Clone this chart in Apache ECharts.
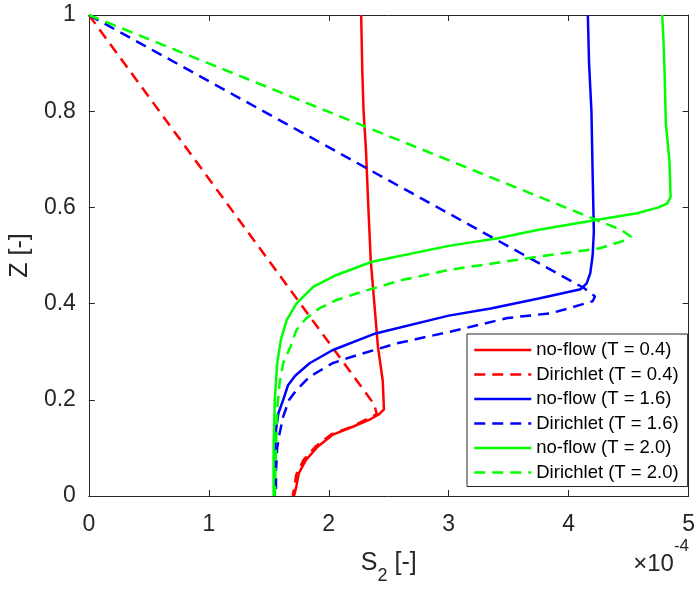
<!DOCTYPE html>
<html>
<head>
<meta charset="utf-8">
<script src="https://cdn.jsdelivr.net/npm/echarts@6/dist/echarts.min.js"></script>
<style>
  html, body { margin: 0; padding: 0; background: #fff; }
  #chart { width: 698px; height: 591px; }
</style>
</head>
<body>
<div id="chart"></div>
<script>
// S2 values in units of 1e-4, paired with Z
const noFlow04 = [[1.71,0],[1.73,0.02],[1.75,0.047],[1.81,0.075],[1.91,0.103],[2.03,0.127],[2.2,0.144],[2.35,0.16],[2.42,0.17],[2.46,0.18],[2.45,0.24],[2.41,0.31],[2.38,0.4],[2.35,0.49],[2.33,0.6],[2.31,0.72],[2.29,0.8],[2.28,0.88],[2.27,1]];
const dirichlet04 = [[0,1],[2.38,0.19],[2.4,0.17],[2.2,0.145],[2.02,0.128],[1.89,0.103],[1.79,0.075],[1.73,0.045],[1.7,0]];
const noFlow16 = [[1.55,0],[1.55,0.07],[1.56,0.137],[1.58,0.172],[1.62,0.2],[1.66,0.23],[1.72,0.25],[1.84,0.276],[2.03,0.303],[2.39,0.338],[3.0,0.375],[3.35,0.39],[3.76,0.411],[4.1,0.43],[4.15,0.442],[4.18,0.463],[4.2,0.5],[4.21,0.55],[4.2,0.67],[4.19,0.8],[4.17,0.9],[4.16,1]];
const dirichlet16 = [[0,1],[4.13,0.432],[4.22,0.415],[4.2,0.405],[4.0,0.39],[3.85,0.38],[3.49,0.37],[3.02,0.342],[2.56,0.317],[2.2,0.29],[2.03,0.276],[1.84,0.248],[1.73,0.22],[1.67,0.2],[1.62,0.165],[1.59,0.13],[1.57,0.1],[1.56,0.05],[1.56,0]];
const noFlow20 = [[1.54,0],[1.54,0.1],[1.55,0.2],[1.57,0.276],[1.6,0.324],[1.65,0.366],[1.73,0.4],[1.87,0.435],[2.06,0.459],[2.36,0.487],[3.0,0.52],[3.41,0.536],[3.74,0.553],[4.23,0.574],[4.57,0.588],[4.75,0.6],[4.82,0.608],[4.85,0.622],[4.84,0.698],[4.81,0.775],[4.8,0.88],[4.79,0.95],[4.78,1]];
const dirichlet20 = [[0,1],[4.44,0.553],[4.52,0.539],[4.45,0.53],[4.26,0.515],[3.76,0.498],[3.0,0.47],[2.61,0.449],[2.28,0.425],[2.06,0.407],[1.92,0.39],[1.81,0.369],[1.73,0.345],[1.68,0.31],[1.62,0.276],[1.59,0.234],[1.57,0.18],[1.56,0.1],[1.55,0]];

const seriesNames = ["no-flow (T = 0.4)", "Dirichlet (T = 0.4)", "no-flow (T = 1.6)", "Dirichlet (T = 1.6)", "no-flow (T = 2.0)", "Dirichlet (T = 2.0)"];
const seriesData = [noFlow04, dirichlet04, noFlow16, dirichlet16, noFlow20, dirichlet20];
const seriesColors = ["#ff0000", "#ff0000", "#0000ff", "#0000ff", "#00ff00", "#00ff00"];

const axisColor = "#262626";
const fontFamily = "'Liberation Sans', Arial, Helvetica, sans-serif";

const chart = echarts.init(document.getElementById("chart"));

// 主坐标轴 + 顶部/右侧的边框轴
const baseAxis = {
  type: "value",
  axisLine: { show: true, onZero: false, lineStyle: { color: axisColor, width: 1 } },
  axisTick: { show: true, inside: true, length: 6, lineStyle: { color: axisColor } },
  splitLine: { show: false },
};

const option = {
  animation: false,
  backgroundColor: "#fff",
  textStyle: { fontFamily: fontFamily },
  grid: { left: 83, right: 7, top: 15, bottom: 95 },
  xAxis: [
    {
      ...baseAxis,
      min: 0, max: 5, interval: 1,
      axisLabel: { color: axisColor, fontSize: 23, margin: 17, fontFamily: fontFamily },
      name: "{s|S}{sub|2}{s| [-]}",
      nameLocation: "middle",
      nameGap: 55,
      nameTextStyle: {
        color: axisColor,
        fontFamily: fontFamily,
        rich: {
          s: { fontSize: 25, lineHeight: 28, verticalAlign: "top", color: axisColor, fontFamily: fontFamily },
          sub: { fontSize: 18, lineHeight: 18, padding: [16, 0, 0, 0], verticalAlign: "top", color: axisColor, fontFamily: fontFamily },
        },
      },
    },
    {
      ...baseAxis,
      position: "top",
      min: 0, max: 5, interval: 1,
      axisLabel: { show: false },
    },
  ],
  yAxis: [
    {
      ...baseAxis,
      min: 0, max: 1, interval: 0.2,
      axisLabel: { color: axisColor, fontSize: 23, margin: 13, fontFamily: fontFamily },
      name: "Z [-]",
      nameLocation: "middle",
      nameGap: 55,
      nameTextStyle: { color: axisColor, fontSize: 25, fontFamily: fontFamily },
    },
    {
      ...baseAxis,
      position: "right",
      min: 0, max: 1, interval: 0.2,
      axisLabel: { show: false },
    },
  ],
  legend: {
    orient: "vertical",
    left: 467,
    top: 334,
    backgroundColor: "#fff",
    borderColor: axisColor,
    borderWidth: 1,
    borderRadius: 0,
    padding: [6, 9, 4, 6],
    itemWidth: 57,
    itemHeight: 14,
    itemGap: 4.5,
    itemStyle: { opacity: 0 },
    lineStyle: { width: 2.5 },
    textStyle: { color: "#000", fontSize: 18.5, lineHeight: 20, fontFamily: fontFamily },
    data: seriesNames,
  },
  graphic: [
    {
      type: "text",
      x: 689,
      y: 538,
      style: {
        text: "{m|×10}{p|-4}",
        align: "right",
        verticalAlign: "top",
        fill: axisColor,
        rich: {
          m: { fontSize: 24, lineHeight: 26, padding: [14, 0, 0, 0], verticalAlign: "top", fill: axisColor, fontFamily: fontFamily },
          p: { fontSize: 17, lineHeight: 17, verticalAlign: "top", fill: axisColor, fontFamily: fontFamily },
        },
      },
    },
  ],
  series: seriesNames.map((name, i) => ({
    name: name,
    type: "line",
    data: seriesData[i],
    symbol: "none",
    showSymbol: false,
    color: seriesColors[i],
    lineStyle: {
      color: seriesColors[i],
      width: 2.5,
      type: i % 2 === 1 ? [11, 7] : "solid",
    },
    z: 2 + i,
  })),
};

chart.setOption(option);
</script>
</body>
</html>
